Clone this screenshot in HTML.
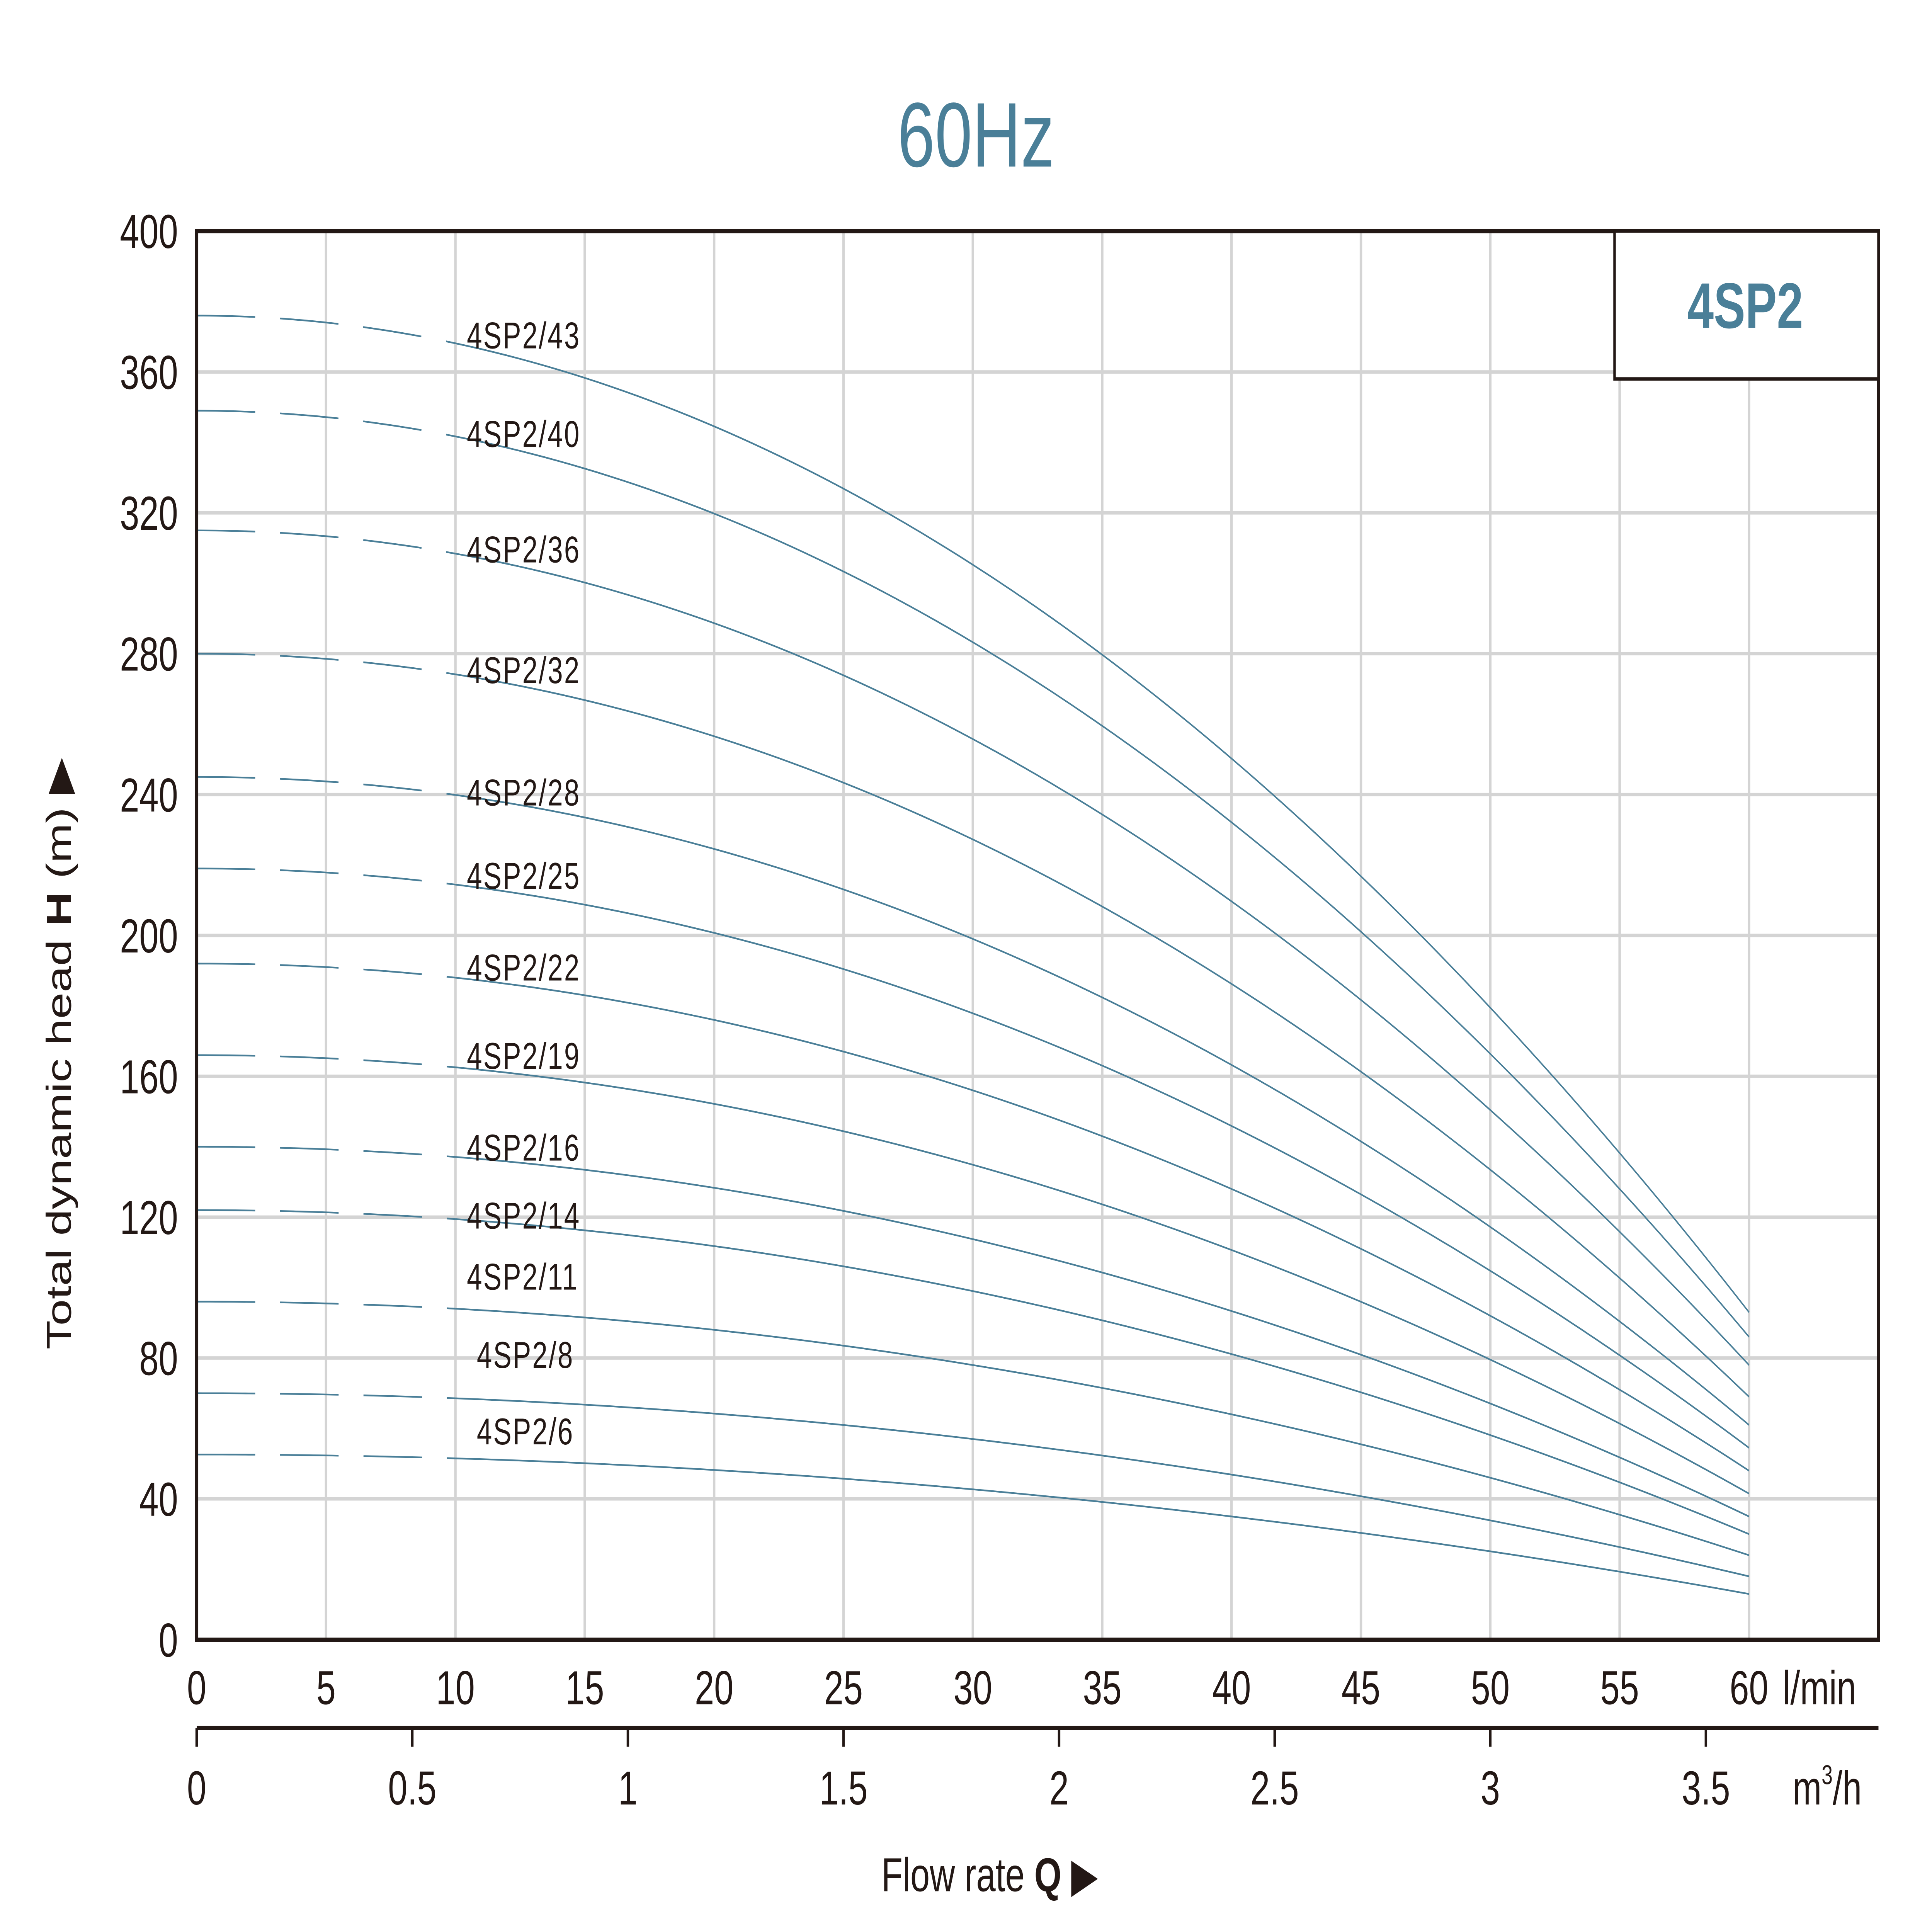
<!DOCTYPE html>
<html><head><meta charset="utf-8"><style>
html,body{margin:0;padding:0;background:#fff;width:100%;height:100%;overflow:hidden;}
svg{display:block;position:fixed;left:0;top:0;width:100vw;height:100vh;}
text{font-family:"Liberation Sans",sans-serif;}
</style></head><body>
<svg id="s" viewBox="0 0 1552 1137" preserveAspectRatio="none" xmlns="http://www.w3.org/2000/svg">
<rect width="1552" height="1137" fill="#fff"/>
<g id="grid" stroke="#d4d4d4" stroke-width="2"></g>
<g id="curves" fill="none" stroke="#4a7f98" stroke-width="1"></g>
<rect x="158" y="136" width="1351" height="829" fill="none" stroke="#231815" stroke-width="2.5"/>
<rect x="1297" y="136" width="212" height="87" fill="#fff" stroke="#231815" stroke-width="2"/>
<text x="1402" y="193" font-size="38" font-weight="bold" fill="#4a7f98" text-anchor="middle">4SP2</text>
<text x="784" y="98" font-size="54" fill="#4a7f98" text-anchor="middle">60Hz</text>
<g id="ylab" font-size="28" fill="#231815" text-anchor="end"></g>
<g id="xlab" font-size="28" fill="#231815" text-anchor="middle"></g>
<line x1="158" y1="1017" x2="1509" y2="1017" stroke="#231815" stroke-width="2.5"/>
<g id="mlab" font-size="28" fill="#231815" text-anchor="middle"></g>
<text x="1432" y="1003" font-size="28" fill="#231815">l/min</text>
<text x="1440" y="1062" font-size="28" fill="#231815">m<tspan font-size="16" dy="-12">3</tspan><tspan dy="12">/h</tspan></text>
<text x="795" y="1113" font-size="28" fill="#231815" text-anchor="middle">Flow rate <tspan font-weight="bold">Q</tspan> ▶</text>
<text transform="translate(57,620) rotate(-90)" font-size="28" fill="#231815" text-anchor="middle">Total dynamic head <tspan font-weight="bold">H</tspan> (m) ▶</text>
<g id="labels" font-size="22" fill="#231815" font-family="DejaVu Sans, sans-serif" letter-spacing="1"></g>
</svg>
<script>
var NS="http://www.w3.org/2000/svg";
function el(p,t,a,txt){var e=document.createElementNS(NS,t);for(var k in a)e.setAttribute(k,a[k]);if(txt!=null)e.textContent=txt;document.getElementById(p).appendChild(e);return e;}
function X(q){return 158+q*(1405-158)/60;}
function Y(h){return 965-h*(965-136)/400;}
for(var q=5;q<=60;q+=5)el("grid","line",{x1:X(q),y1:136,x2:X(q),y2:965});
for(var h=40;h<400;h+=40)el("grid","line",{x1:158,y1:Y(h),x2:1509,y2:Y(h)});
for(var h=0;h<=400;h+=40)el("ylab","text",{x:143,y:Y(h)+10},h);
for(var q=0;q<=60;q+=5)el("xlab","text",{x:X(q),y:1003},q);
var ms=[0,0.5,1,1.5,2,2.5,3,3.5];
ms.forEach(function(m){var x=X(m*1000/60);el("mlab","line",{x1:x,y1:1017,x2:x,y2:1028,stroke:"#231815","stroke-width":2});el("mlab","text",{x:x,y:1062},m);});
var C=[["43",376,93,205,375],["40",349,86,263,375],["36",315,78,331,375],["32",280,69,402,375],["28",245,61,474,375],["25",219,54.5,523,375],["22",192,48,577,375],["19",166,41.5,629,375],["16",140,35,683,375],["14",122,30,723,375],["11",96,24,759,375],["8",70,18,805,383],["6",52.6,13,850,383]];
C.forEach(function(c){
 var a=c[1],b=(c[1]-c[2])/3600;
 function H(q){return a-b*q*q;}
 var d="";for(var q=0;q<=10.001;q+=0.25)d+=(q==0?"M":"L")+X(q).toFixed(2)+","+Y(H(q)).toFixed(2);
 el("curves","path",{d:d,"stroke-dasharray":"47 20"});
 d="";for(var q=10;q<=60.001;q+=0.5)d+=(q==10?"M":"L")+X(q).toFixed(2)+","+Y(H(q)).toFixed(2);
 el("curves","path",{d:d});
 el("labels","text",{x:c[4],y:c[3]},"4SP2/"+c[0]);
});
</script>
</body></html>
